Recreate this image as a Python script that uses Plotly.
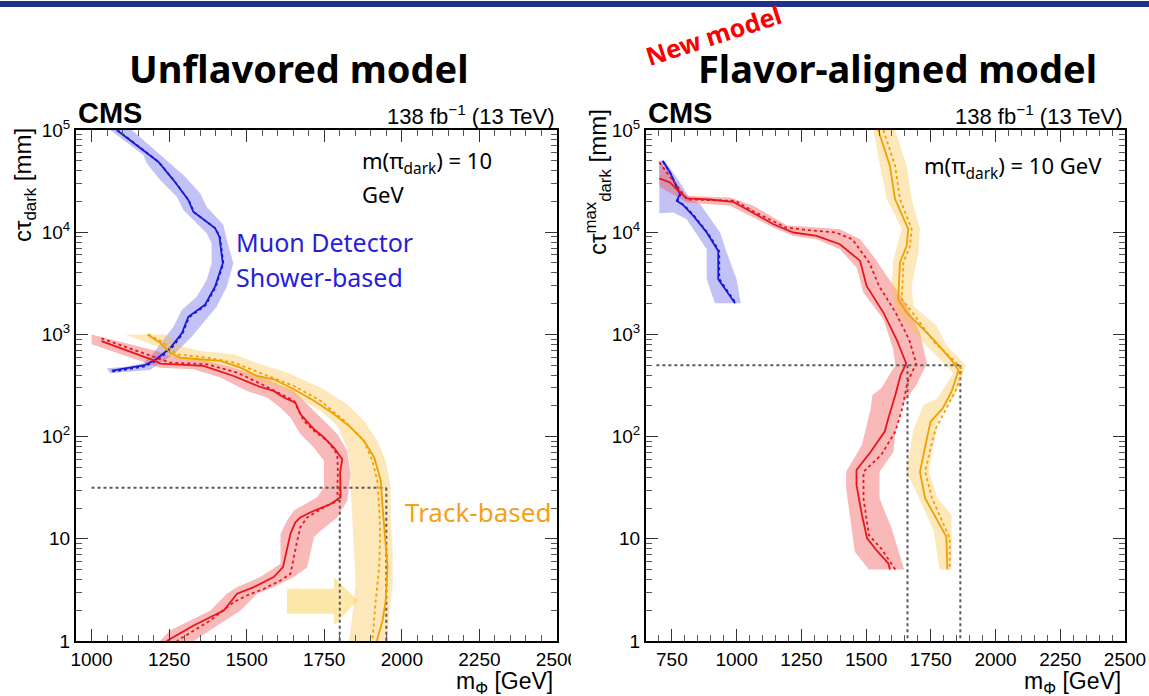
import plotly.graph_objects as go

W, H = 1149, 696

# ---------------- Unflavored model (left) ----------------
# red: observed (solid), expected (dotted), +-1 sigma band (outer / inner edge)
unf_red_obs_m = [1032, 1205, 1221, 1361, 1458, 1544, 1587, 1620, 1657, 1673, 1717, 1749, 1781, 1808,
                 1801, 1803, 1770, 1706, 1673, 1657, 1641, 1617, 1587, 1523, 1469, 1426, 1329, 1242]
unf_red_obs_ct = [861, 550, 518, 491, 392, 306, 280, 241, 215, 166, 118, 98, 78, 60,
                  44.7, 25.5, 21.9, 18.2, 16.2, 14.5, 11.2, 5.28, 4.22, 3.37, 2.90, 1.99, 1.42, 1.0]
unf_red_exp_m = [1032, 1210, 1253, 1372, 1469, 1566, 1652, 1684, 1717, 1760, 1792, 1794, 1792,
                 1794, 1749, 1695, 1673, 1663, 1641, 1609, 1555, 1501, 1458, 1383, 1275]
unf_red_exp_ct = [915, 593, 530, 510, 423, 306, 224, 143, 114, 91, 67.4, 44.7, 29.6,
                  23.6, 20.3, 16.2, 13.0, 9.6, 4.54, 3.91, 3.24, 2.79, 2.40, 1.59, 1.0]
unf_red_hi_m = [1000, 1210, 1253, 1350, 1458, 1566, 1652, 1695, 1749, 1792, 1824, 1835, 1824,
                1792, 1738, 1717, 1695, 1652, 1587, 1533, 1480, 1404, 1329]
unf_red_hi_ct = [1000, 688, 615, 571, 473, 364, 280, 207, 143, 106, 72.7, 43, 23.6,
                 16.2, 12.0, 10.4, 5.28, 4.22, 3.37, 2.90, 1.99, 1.42, 1.0]
unf_red_lo_m = [1000, 1189, 1221, 1329, 1415, 1501, 1566, 1609, 1641, 1673, 1717, 1749, 1749,
                1727, 1652, 1630, 1609, 1609, 1544, 1469, 1436, 1383, 1253, 1221]
unf_red_lo_ct = [800, 510, 473, 456, 378, 280, 241, 192, 154, 106, 78, 58, 31.9,
                 25.5, 18.9, 15.1, 11.2, 5.69, 4.22, 3.37, 2.90, 1.99, 1.27, 1.0]

# orange: track-based
unf_org_obs_m = [1180, 1221, 1253, 1286, 1350, 1415, 1480, 1533, 1587, 1652, 1717, 1781, 1835,
                 1878, 1911, 1932, 1938, 1948, 1954, 1948, 1938, 1919]
unf_org_obs_ct = [1000, 830, 663, 593, 571, 550, 473, 392, 364, 291, 224, 166, 123,
                  91, 62.5, 37, 20.3, 9.6, 5.28, 2.49, 1.59, 1.0]
unf_org_exp_m = [1183, 1232, 1275, 1372, 1458, 1544, 1652, 1738, 1814, 1878, 1905, 1921, 1927,
                 1930, 1927, 1916, 1905]
unf_org_exp_ct = [1000, 830, 638, 593, 530, 423, 313, 224, 143, 91, 58, 37, 20.3,
                  11.2, 5.28, 2.49, 1.0]
unf_org_hi_m = [1242, 1286, 1350, 1458, 1544, 1630, 1738, 1824, 1878, 1921, 1948, 1964, 1964,
                1970, 1970, 1959, 1954]
unf_org_hi_ct = [1000, 770, 688, 638, 510, 423, 302, 207, 143, 91, 58, 31.9, 16.2,
                 7.68, 3.63, 1.71, 1.0]
unf_org_lo_m = [1108, 1221, 1253, 1350, 1458, 1523, 1609, 1673, 1738, 1792, 1824, 1835, 1835,
                1840, 1846, 1851, 1840, 1830]
unf_org_lo_ct = [1000, 741, 593, 530, 473, 364, 302, 232, 179, 127, 78, 50, 31.9,
                 16.2, 7.68, 3.63, 1.71, 1.0]

# blue: muon detector shower-based
unf_blu_obs_m = [1081, 1215, 1264, 1312, 1328, 1398, 1412, 1423, 1398, 1366, 1312, 1291, 1253,
                 1205, 1172, 1113, 1065]
unf_blu_obs_ct = [100000, 48980, 32360, 20650, 15850, 10960, 9040, 4966, 2931, 1950, 1489, 1023, 731,
                  562, 501, 466, 442]
unf_blu_exp_m = [1083, 1217, 1266, 1314, 1330, 1400, 1414, 1425, 1400, 1368, 1314, 1293, 1255,
                 1207, 1174, 1115, 1068]
unf_blu_exp_ct = [100000, 48500, 32000, 20400, 15700, 10850, 8950, 4930, 2900, 1930, 1470, 1005, 715,
                  550, 488, 452, 432]
unf_blu_hi_m = [1130, 1242, 1296, 1350, 1371, 1425, 1436, 1457, 1436, 1403, 1350, 1323, 1269,
                1215, 1188, 1113, 1060]
unf_blu_hi_ct = [100000, 50820, 36300, 24040, 17780, 11750, 8390, 4966, 2931, 1866, 1189, 950, 653,
                 502, 449, 432, 416]
unf_blu_lo_m = [1060, 1167, 1178, 1221, 1275, 1296, 1371, 1387, 1387, 1371, 1339, 1291, 1264,
                1231, 1199, 1167, 1113, 1049]
unf_blu_lo_ct = [100000, 56900, 47200, 32400, 22230, 16480, 9750, 7780, 4966, 3404, 2339, 1734, 1189,
                 881, 653, 521, 483, 466]

# excluded-region guide lines and highlight arrow
unf_guide_ct = 31.6
unf_guide_m = [1000, 1800, 1950]
unf_arrow_m = [1630, 1781, 1781, 1857, 1781, 1781, 1630]
unf_arrow_ct = [3.24, 3.24, 4.22, 2.49, 1.42, 1.85, 1.85]

# ---------------- Flavor-aligned model (right) ----------------
fa_red_obs_m = [701.5, 742.7, 768.5, 807, 897, 987, 1039, 1142, 1219, 1309, 1399, 1477, 1502, 1567,
                1618, 1655, 1633, 1613, 1586, 1572, 1518, 1463, 1463, 1484, 1504, 1545, 1586, 1592]
fa_red_obs_ct = [33570, 30690, 26300, 21380, 20890, 19820, 16790, 11970, 9930, 9200, 7620, 5236, 2979, 1633,
                 891, 520, 398, 255, 151, 112, 71.1, 47.1, 33.6, 17.1, 10.1, 7.48, 5.75, 5.0]
fa_red_exp_m = [701.5, 770, 809, 996, 1061, 1190, 1267, 1383, 1447, 1512, 1550, 1614, 1666,
                1694, 1660, 1640, 1613, 1558, 1490, 1490, 1511, 1558, 1592, 1613]
fa_red_exp_ct = [48200, 28440, 20890, 20280, 16180, 11120, 10540, 9930, 8530, 5050, 2979, 1633, 891,
                 520, 344, 189, 112, 66, 45.3, 24.9, 10.9, 8.05, 5.97, 5.0]
fa_red_hi_m = [701.5, 807, 974.5, 1064.5, 1193.5, 1309, 1399, 1477, 1528, 1580, 1644, 1708, 1735,
               1694, 1640, 1613, 1606, 1552, 1552, 1599, 1647]
fa_red_hi_ct = [50100, 22700, 21880, 18110, 11720, 11120, 10690, 8530, 5860, 3730, 2203, 1040, 520,
                319, 204, 112, 71.1, 45.3, 24.9, 12.6, 5.0]
fa_red_lo_m = [701.5, 807, 974.5, 1142, 1219, 1309, 1399, 1463.5, 1489, 1567, 1605, 1613, 1558,
               1524.5, 1518, 1484, 1423, 1423, 1456.5, 1511]
fa_red_lo_ct = [28000, 19540, 18110, 11120, 9200, 8530, 6810, 4510, 2564, 1403, 713, 500, 296,
                255, 189, 82.6, 45.3, 31.1, 7.48, 5.0]

fa_org_obs_m = [1547, 1592, 1612, 1663, 1657, 1631, 1624, 1657, 1760, 1830, 1857, 1830, 1796,
                1749, 1735, 1708, 1728, 1810, 1814]
fa_org_obs_ct = [100000, 44670, 21090, 10720, 7350, 5050, 2203, 1633, 893, 560, 445, 275, 189,
                 140, 96, 45.3, 24.9, 10.5, 5.0]
fa_org_exp_m = [1567, 1612, 1631, 1676, 1670, 1644, 1638, 1670, 1762, 1844, 1871, 1850, 1810,
                1769, 1755, 1728, 1755, 1823, 1823]
fa_org_exp_ct = [100000, 44670, 21090, 10720, 7350, 5050, 2203, 1760, 847, 540, 448, 296, 189,
                 120, 89, 45.3, 24.9, 10.1, 5.0]
fa_org_hi_m = [1612, 1657, 1676, 1708, 1702, 1676, 1683, 1773, 1812, 1885, 1844, 1803, 1776,
               1762, 1742, 1776, 1830, 1830]
fa_org_hi_ct = [100000, 44670, 21090, 10720, 6310, 2979, 1897, 1208, 769, 500, 255, 189, 140,
                82.6, 45.3, 24.9, 17.1, 5.0]
fa_org_lo_m = [1528, 1554, 1580, 1638, 1605, 1599, 1618, 1734, 1837, 1776, 1721, 1681, 1654,
               1694, 1762, 1783]
fa_org_lo_ct = [100000, 44670, 21090, 10720, 5430, 2979, 1633, 769, 420, 237, 204, 112, 45.3,
                28.8, 11.7, 5.0]

fa_blu_obs_m = [714, 743, 781, 768.5, 794, 833, 884.5, 929, 929, 994]
fa_blu_obs_ct = [50100, 38460, 23600, 20280, 18410, 14450, 9930, 6560, 3460, 2014]
fa_blu_exp_m = [716, 745, 783, 772, 798, 838, 890, 933, 933, 998]
fa_blu_exp_ct = [49000, 37500, 23400, 20500, 18300, 14200, 9700, 6500, 3500, 2000]
fa_blu_hi_m = [723, 781, 820, 859, 936, 962, 1000, 1016]
fa_blu_hi_ct = [50100, 30690, 21090, 18830, 9930, 6320, 3460, 2014]
fa_blu_lo_m = [701.5, 701.5, 755.5, 807, 884.5, 884.5, 916.5]
fa_blu_lo_ct = [50100, 15350, 15600, 13400, 6810, 3460, 2014]

fa_guide_ct = 500
fa_guide_m = [690, 1660, 1864]

# ---------------- styling ----------------
RED, RED_BAND = "rgb(232,22,28)", "rgba(238,70,70,0.38)"
ORG, ORG_BAND = "rgb(240,160,0)", "rgba(250,190,60,0.35)"
BLU, BLU_BAND = "rgb(25,25,215)", "rgba(95,95,235,0.38)"
GUIDE = "rgb(90,90,90)"
ROOT_FONT = "Liberation Sans"
SLIDE_FONT = "Noto Sans"

fig = go.Figure()


def band(xa, ya, m_hi, ct_hi, m_lo, ct_lo, color):
    fig.add_trace(go.Scatter(x=m_hi + m_lo[::-1], y=ct_hi + ct_lo[::-1], xaxis=xa, yaxis=ya,
                             mode="lines", fill="toself", fillcolor=color,
                             line=dict(width=0), hoverinfo="skip", showlegend=False))


def curve(xa, ya, m, ct, color, dash="solid", width=1.8):
    fig.add_trace(go.Scatter(x=m, y=ct, xaxis=xa, yaxis=ya, mode="lines",
                             line=dict(color=color, width=width, dash=dash), showlegend=False))


def guides(xa, ya, ct0, ms):
    curve(xa, ya, [ms[0], ms[-1]], [ct0, ct0], GUIDE, "dot", 2)
    for m in ms[1:]:
        curve(xa, ya, [m, m], [ct0, 1], GUIDE, "dot", 2)


# left panel
fig.add_trace(go.Scatter(x=unf_arrow_m, y=unf_arrow_ct, xaxis="x", yaxis="y", mode="lines",
                         fill="toself", fillcolor="rgb(252,232,168)", line=dict(width=0),
                         hoverinfo="skip", showlegend=False))
band("x", "y", unf_blu_hi_m, unf_blu_hi_ct, unf_blu_lo_m, unf_blu_lo_ct, BLU_BAND)
band("x", "y", unf_red_hi_m, unf_red_hi_ct, unf_red_lo_m, unf_red_lo_ct, RED_BAND)
band("x", "y", unf_org_hi_m, unf_org_hi_ct, unf_org_lo_m, unf_org_lo_ct, ORG_BAND)
guides("x", "y", unf_guide_ct, unf_guide_m)
curve("x", "y", unf_blu_exp_m, unf_blu_exp_ct, BLU, "dot")
curve("x", "y", unf_blu_obs_m, unf_blu_obs_ct, BLU)
curve("x", "y", unf_red_exp_m, unf_red_exp_ct, RED, "dot")
curve("x", "y", unf_red_obs_m, unf_red_obs_ct, RED)
curve("x", "y", unf_org_exp_m, unf_org_exp_ct, ORG, "dot")
curve("x", "y", unf_org_obs_m, unf_org_obs_ct, ORG)

# right panel
band("x2", "y2", fa_blu_hi_m, fa_blu_hi_ct, fa_blu_lo_m, fa_blu_lo_ct, BLU_BAND)
band("x2", "y2", fa_red_hi_m, fa_red_hi_ct, fa_red_lo_m, fa_red_lo_ct, RED_BAND)
band("x2", "y2", fa_org_hi_m, fa_org_hi_ct, fa_org_lo_m, fa_org_lo_ct, ORG_BAND)
guides("x2", "y2", fa_guide_ct, fa_guide_m)
curve("x2", "y2", fa_blu_exp_m, fa_blu_exp_ct, BLU, "dot")
curve("x2", "y2", fa_blu_obs_m, fa_blu_obs_ct, BLU)
curve("x2", "y2", fa_red_exp_m, fa_red_exp_ct, RED, "dot")
curve("x2", "y2", fa_red_obs_m, fa_red_obs_ct, RED)
curve("x2", "y2", fa_org_exp_m, fa_org_exp_ct, ORG, "dot")
curve("x2", "y2", fa_org_obs_m, fa_org_obs_ct, ORG)


def px(x):
    return x / W


def py(y):
    return 1 - y / H


y_dom = [py(641), py(130)]
decades = [1, 10, 100, 1000, 10000, 100000]
decade_txt = ["1", "10", "10<sup>2</sup>", "10<sup>3</sup>", "10<sup>4</sup>", "10<sup>5</sup>"]
minor_vals = [k * d for d in decades[:-1] for k in range(2, 10)]

tick_font = dict(family=ROOT_FONT, size=19, color="black")


def xaxis_style(dom, rng, t0):
    return dict(domain=dom, range=rng, tickmode="linear", tick0=t0, dtick=250,
                ticks="inside", ticklen=12, tickwidth=1.2, tickcolor="#333",
                minor=dict(tickmode="linear", tick0=0, dtick=50, ticks="inside", ticklen=6,
                           tickwidth=1.2, tickcolor="#555"),
                showline=True, linecolor="black", linewidth=2, mirror="allticks",
                showgrid=False, zeroline=False, tickfont=tick_font, fixedrange=True,
                automargin=False)


def yaxis_style(anchor):
    return dict(domain=y_dom, type="log", range=[0, 5], tickmode="array", tickvals=decades,
                ticktext=decade_txt, ticks="inside", ticklen=12, tickwidth=1.2, tickcolor="#333",
                minor=dict(tickmode="array", tickvals=minor_vals, ticks="inside", ticklen=6,
                           tickwidth=1.2, tickcolor="#555"),
                showline=True, linecolor="black", linewidth=2, mirror="allticks",
                showgrid=False, zeroline=False, tickfont=tick_font, anchor=anchor, fixedrange=True,
                automargin=False)


fig.update_layout(
    template="none",
    width=W, height=H, margin=dict(l=0, r=0, t=0, b=0, pad=0, autoexpand=False),
    paper_bgcolor="white", plot_bgcolor="white", showlegend=False,
    xaxis=xaxis_style([px(76), px(557)], [950, 2500], 1000) | dict(anchor="y"),
    yaxis=yaxis_style("x"),
    xaxis2=xaxis_style([px(646), px(1125)], [650, 2500], 750) | dict(anchor="y2"),
    yaxis2=yaxis_style("x2"),
)

ann = []


def text(x, y, s, size, color="black", family=SLIDE_FONT, xanchor="center", yanchor="middle",
         angle=0):
    ann.append(dict(x=px(x), y=py(y), xref="paper", yref="paper", text=s, showarrow=False,
                    xanchor=xanchor, yanchor=yanchor, textangle=angle,
                    font=dict(family=family, size=size, color=color)))


text(299, 68, "<b>Unflavored model</b>", 38)
text(897, 68, "<b>Flavor-aligned model</b>", 38)
text(713, 35, "<b>New model</b>", 25, color="rgb(250,0,0)", angle=-18)

for x0, x1 in [(76, 557), (646, 1125)]:
    text(x0, 113, "<b>CMS</b>", 29, family=ROOT_FONT, xanchor="left")
    text(x1, 115, "138 fb<sup>\u22121</sup> (13 TeV)", 22, family=ROOT_FONT, xanchor="right")
    text(x1 - 2, 682, "m<sub>\u03a6</sub> [GeV]", 23, family=ROOT_FONT, xanchor="right")

text(25, 185, "c\u03c4<sub>dark</sub> [mm]", 24, family=ROOT_FONT, angle=-90)
text(598, 182, "c\u03c4<sup>max</sup><sub>dark</sub> [mm]", 24, family=ROOT_FONT, angle=-90)

text(360, 162, "m(\u03c0<sub>dark</sub>) = 10", 22, xanchor="left")
text(360, 194, "GeV", 22, xanchor="left")
text(922, 167, "m(\u03c0<sub>dark</sub>) = 10 GeV", 22, xanchor="left")

text(234, 242, "Muon Detector", 25, color="rgb(40,30,215)", xanchor="left")
text(234, 277, "Shower-based", 25, color="rgb(40,30,215)", xanchor="left")
text(403, 512, "Track-based", 26, color="rgb(245,160,25)", xanchor="left")

fig.update_layout(annotations=ann)

fig.update_layout(shapes=[
    dict(type="rect", xref="paper", yref="paper", x0=0, x1=1, y0=py(7), y1=py(1),
         fillcolor="rgb(30,50,140)", line=dict(width=0), layer="above"),
    dict(type="rect", xref="paper", yref="paper", x0=px(571), x1=px(598), y0=py(672), y1=py(645),
         fillcolor="white", line=dict(width=0), layer="above"),
])

fig.write_html("out.html")
